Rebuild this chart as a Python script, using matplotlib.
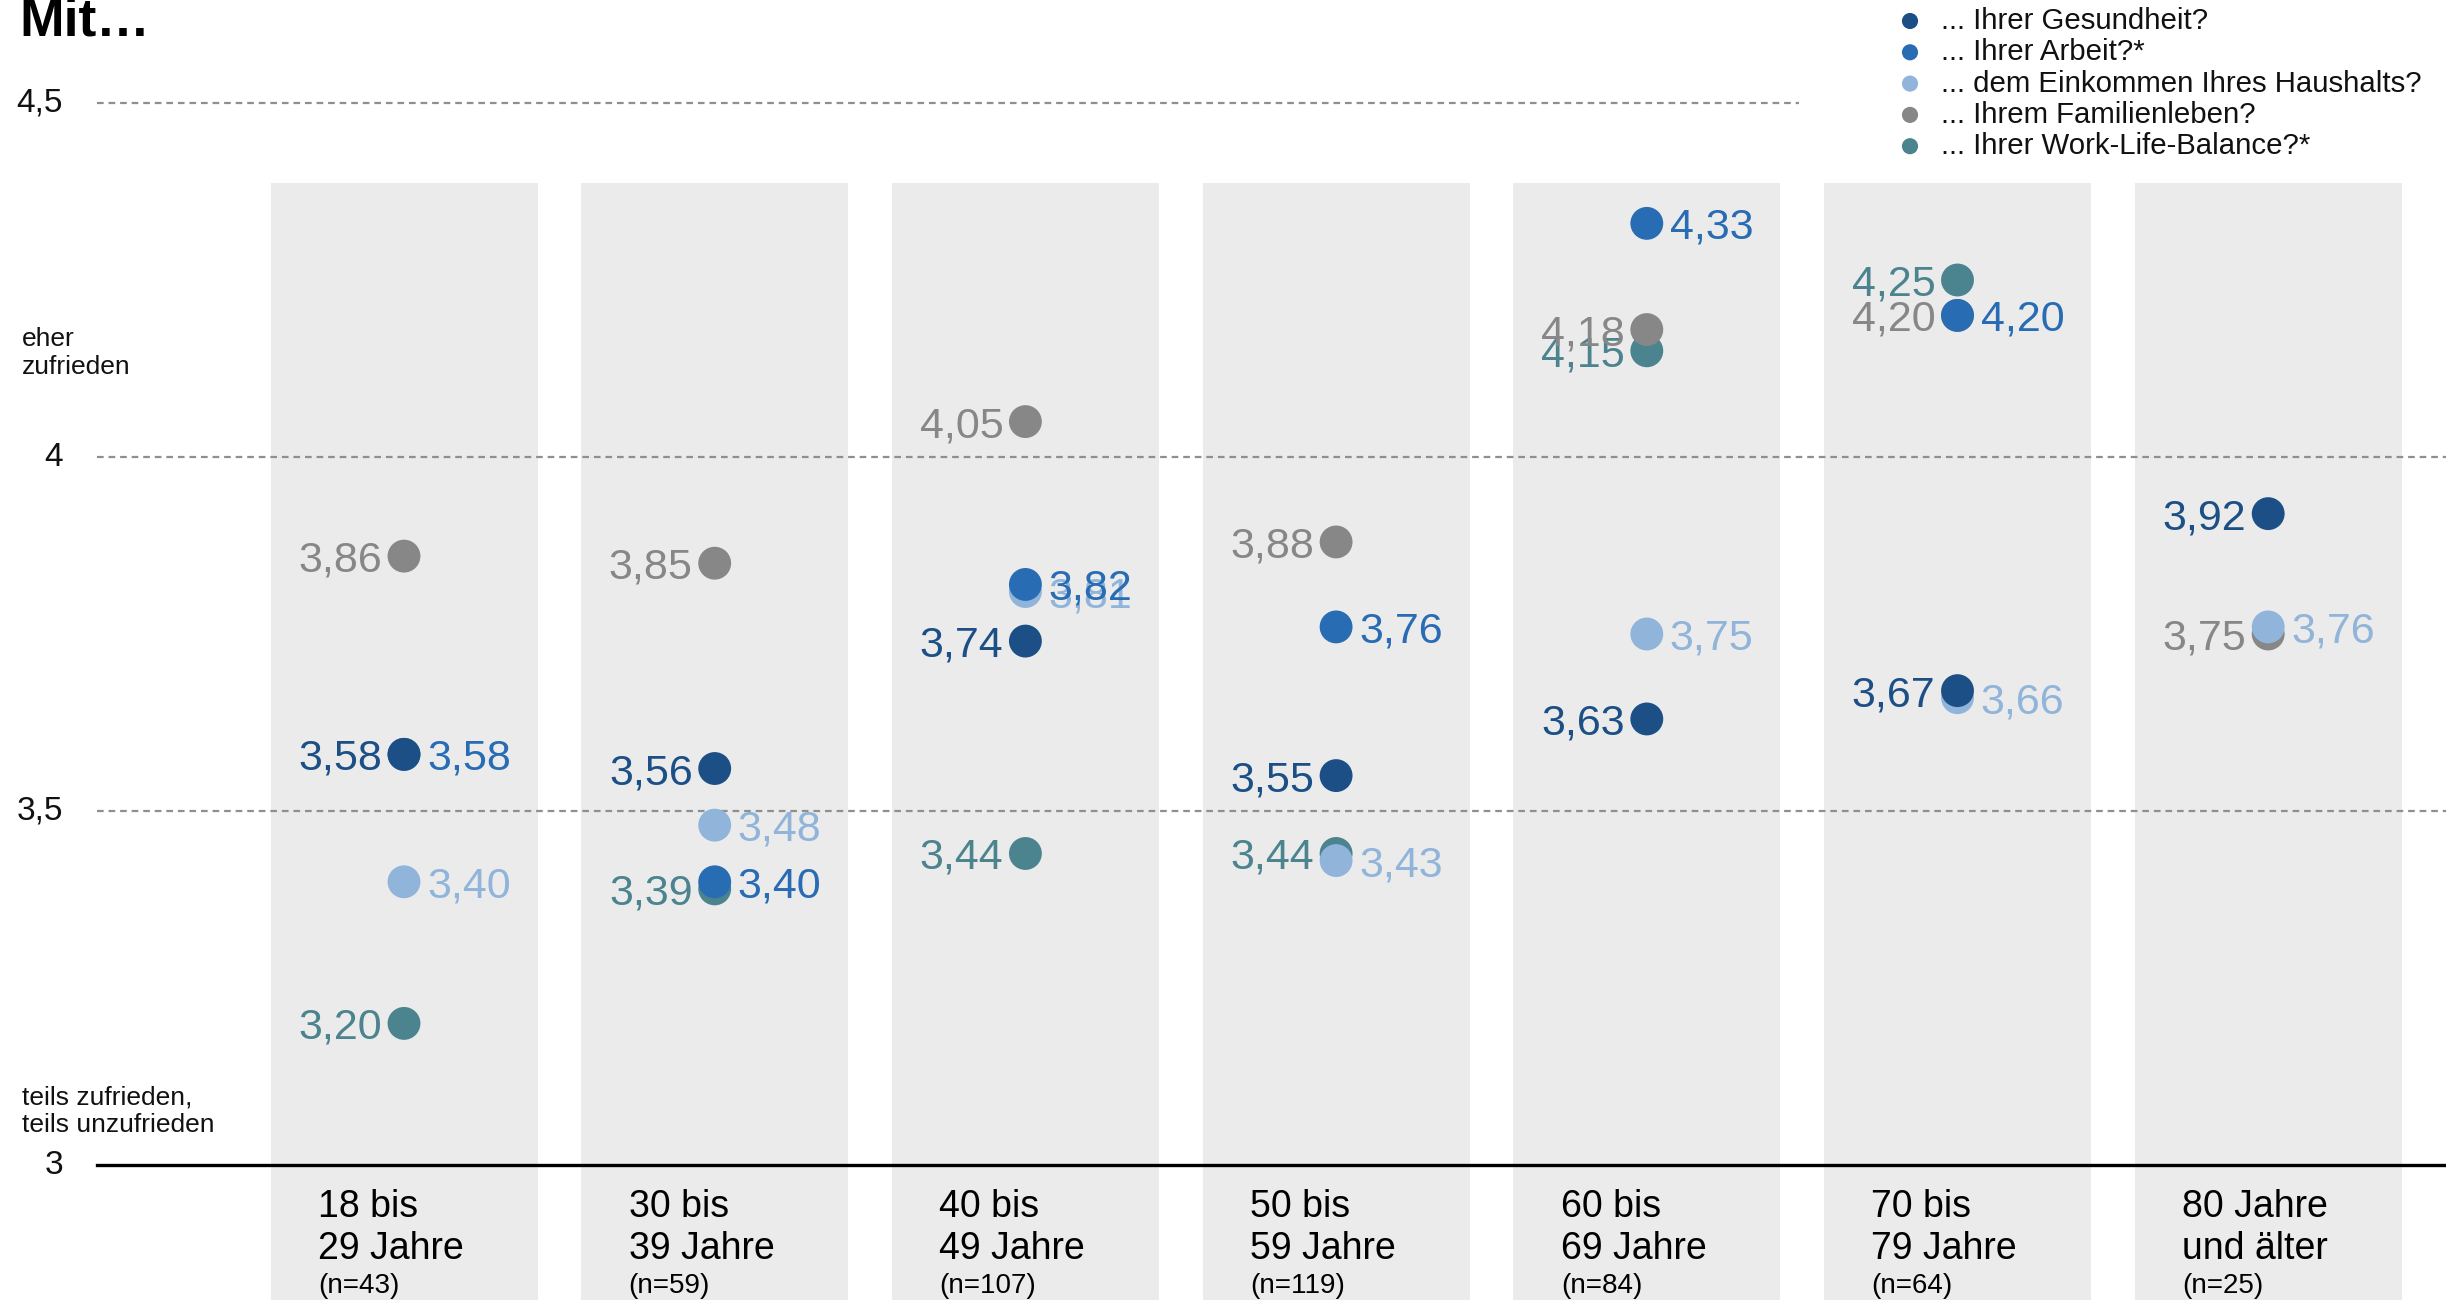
import numpy as np
import matplotlib
matplotlib.use('Agg')
import matplotlib.pyplot as plt
from matplotlib.transforms import blended_transform_factory

plt.rcParams['font.family'] = ['Liberation Sans', 'DejaVu Sans']

# age groups
groups_top = ['18 bis', '30 bis', '40 bis', '50 bis', '60 bis', '70 bis', '80 Jahre']
groups_bottom = ['29 Jahre', '39 Jahre', '49 Jahre', '59 Jahre', '69 Jahre', '79 Jahre', 'und älter']
group_n = ['(n=43)', '(n=59)', '(n=107)', '(n=119)', '(n=84)', '(n=64)', '(n=25)']

# mean satisfaction per group (nan = not asked)
gesundheit = [3.58, 3.56, 3.74, 3.55, 3.63, 3.67, 3.92]
arbeit = [3.58, 3.40, 3.82, 3.76, 4.33, 4.20, np.nan]
einkommen = [3.40, 3.48, 3.81, 3.43, 3.75, 3.66, 3.76]
familie = [3.86, 3.85, 4.05, 3.88, 4.18, 4.20, 3.75]
worklife = [3.20, 3.39, 3.44, 3.44, 4.15, 4.25, np.nan]

legend_labels = ['... Ihrer Gesundheit?', '... Ihrer Arbeit?*', '... dem Einkommen Ihres Haushalts?',
                 '... Ihrem Familienleben?', '... Ihrer Work-Life-Balance?*']
colors = ['#1C4F86', '#286CB4', '#90B4DA', '#878787', '#4B838E']
sides = ['left', 'right', 'right', 'left', 'left']
series = [gesundheit, arbeit, einkommen, familie, worklife]

yticks = [3, 3.5, 4, 4.5]
ytick_labels = ['3', '3,5', '4', '4,5']

W, H = 2446, 1300
X0, PITCH = 404, 310.7   # pixel centre of first group, pixels per group
fig = plt.figure(figsize=(W / 100, H / 100), dpi=100)
ax = fig.add_axes([0, 0, 1, 1])
ax.set_xlim(-X0 / PITCH, (W - X0) / PITCH)
ax.set_ylim(3 - 135 / 708, 3 + 1165 / 708)
ax.axis('off')

def px_x(p):
    return (p - X0) / PITCH

x = np.arange(len(groups_top))
ybot = 3 - 135 / 708
ytop = 3 + (1165 - 183) / 708
ax.bar(x, ytop - ybot, bottom=ybot, width=267 / PITCH, color='#EBEBEB', zorder=0)

# grid lines
xl = px_x(97)
for v in [3.5, 4, 4.5]:
    xr = px_x(1799) if v == 4.5 else ax.get_xlim()[1]
    ax.plot([xl, xr], [v, v], color='#8f8f8f', lw=1.6, ls=(0, (3, 2.2)), zorder=1)
ax.plot([xl, ax.get_xlim()[1]], [3, 3], color='black', lw=2.4, zorder=1)

for v, t in zip(yticks, ytick_labels):
    ax.text(px_x(63), v, t, ha='right', va='center', fontsize=24, color='#111111')

ax.text(px_x(22), 3 + (1165 - 353) / 708, 'eher\nzufrieden', ha='left', va='center',
        fontsize=19, linespacing=1.2, color='#111111')
ax.text(px_x(22), 3 + (1165 - 1111) / 708, 'teils zufrieden,\nteils unzufrieden', ha='left',
        va='center', fontsize=19, linespacing=1.2, color='#111111')

# dots and value labels, drawn in reverse so Gesundheit ends on top
for k in reversed(range(len(series))):
    vals = np.array(series[k], dtype=float)
    ok = ~np.isnan(vals)
    ax.scatter(x[ok], vals[ok], s=560, color=colors[k], edgecolors='none', zorder=3)
    for i in x[ok]:
        dx = -22 if sides[k] == 'left' else 23
        ax.annotate(('%.2f' % vals[i]).replace('.', ','), (i, vals[i]), xytext=(dx, -15.5),
                    textcoords='offset pixels', ha='right' if sides[k] == 'left' else 'left',
                    va='baseline', fontsize=31, color=colors[k], zorder=3)

# category labels below the axis
tr = blended_transform_factory(ax.transData, fig.transFigure)
for i in x:
    lx = i - 86 / PITCH
    ax.text(lx, 1 - 1207 / H, groups_top[i], transform=tr, ha='left', va='center', fontsize=27)
    ax.text(lx, 1 - 1249 / H, groups_bottom[i], transform=tr, ha='left', va='center', fontsize=27)
    ax.text(lx, 1 - 1286 / H, group_n[i], transform=tr, ha='left', va='center', fontsize=20)

# legend
for k, lab in enumerate(legend_labels):
    yy = 1 - (21 + 31.3 * k) / H
    ax.scatter([1910 / W], [yy], s=135, color=colors[k], edgecolors='none', transform=fig.transFigure,
               clip_on=False, zorder=5)
    fig.text(1941 / W, yy, lab, ha='left', va='center', fontsize=21.2, color='#111111')

fig.text(19 / W, 1 - 36 / H, 'Mit…', ha='left', va='baseline', fontsize=38.5, fontweight='bold')

fig.savefig('out.png', dpi=100)
